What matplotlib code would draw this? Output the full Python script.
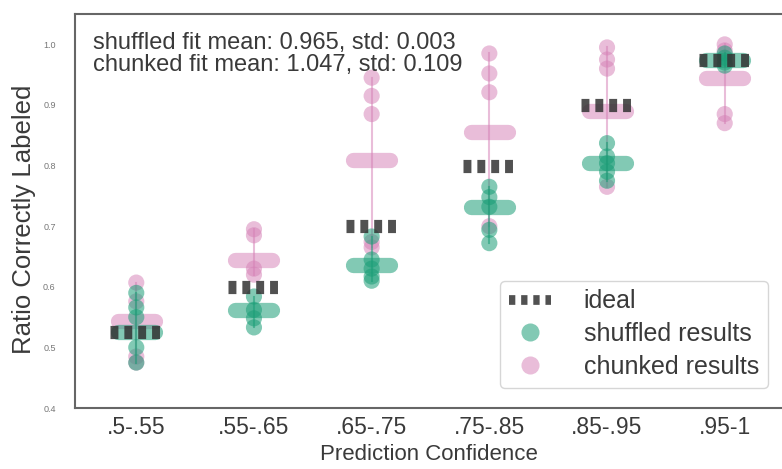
#!/usr/bin/env python3
"""Calibration of labelled ratios per confidence bin, shuffled vs chunked."""

import matplotlib

matplotlib.use("Agg")
import matplotlib.pyplot as plt
from matplotlib.lines import Line2D

categories = [".5-.55", ".55-.65", ".65-.75", ".75-.85", ".85-.95", ".95-1"]
ideal = [0.525, 0.6, 0.7, 0.8, 0.9, 0.975]

shuffled_mean = [0.525, 0.562, 0.636, 0.732, 0.804, 0.975]
chunked_mean = [0.543, 0.645, 0.81, 0.855, 0.89, 0.944]

shuffled_points = [
    [0.59, 0.566, 0.55, 0.50, 0.475],
    [0.584, 0.562, 0.548, 0.533],
    [0.683, 0.645, 0.63, 0.617, 0.61],
    [0.765, 0.748, 0.732, 0.694, 0.672],
    [0.837, 0.815, 0.804, 0.79, 0.775],
    [0.985, 0.978, 0.97, 0.965],
]
chunked_points = [
    [0.607, 0.576, 0.485, 0.475],
    [0.695, 0.685, 0.63, 0.62],
    [0.945, 0.915, 0.885, 0.674, 0.665],
    [0.985, 0.952, 0.921, 0.70],
    [0.995, 0.975, 0.96, 0.765],
    [1.0, 0.99, 0.885, 0.87],
]

fit_text = [
    "shuffled fit mean: 0.965, std: 0.003",
    "chunked fit mean: 1.047, std: 0.109",
]

GREEN = "#1b9e77"
PINK = "#d581b6"
IDEAL = "#333333"
TEXT = "#3a3a3a"

plt.rcParams["font.family"] = ["Liberation Sans", "DejaVu Sans"]

fig = plt.figure(figsize=(7.82, 4.69), dpi=100)
ax = fig.add_axes([0.096, 0.13, 0.906, 0.84])


def draw_series(points, means, color, alpha, zorder):
    for i, (vals, mean) in enumerate(zip(points, means)):
        ax.plot([i, i], [min(vals), max(vals)], color=color, alpha=alpha,
                lw=1.5, zorder=zorder)
        ax.plot([i - 0.157, i + 0.157], [mean, mean], color=color,
                alpha=alpha, lw=11, solid_capstyle="round", zorder=zorder)
        ax.scatter([i] * len(vals), vals, s=135, color=color, alpha=alpha,
                   edgecolors="none", zorder=zorder)


draw_series(chunked_points, chunked_mean, PINK, 0.52, 2)
draw_series(shuffled_points, shuffled_mean, GREEN, 0.55, 3)

for i, val in enumerate(ideal):
    ax.plot([i - 0.22, i + 0.22], [val, val], color=IDEAL, alpha=0.85,
            lw=9.5, dashes=(0.6, 0.45), solid_capstyle="butt",
            dash_capstyle="butt", zorder=4)

ax.set_xlim(-0.52, 5.5)
ax.set_ylim(0.4, 1.05)
ax.set_xticks(range(len(categories)))
ax.set_xticklabels(categories, fontsize=16.5, color=TEXT)
ax.set_yticks([0.4, 0.5, 0.6, 0.7, 0.8, 0.9, 1.0])
ax.set_yticklabels(["0.4", "0.5", "0.6", "0.7", "0.8", "0.9", "1.0"],
                   fontsize=6.5, color="#777777")
ax.tick_params(length=0)
ax.tick_params(axis="y", pad=14)
ax.tick_params(axis="x", pad=6)
ax.set_xlabel("Prediction Confidence", fontsize=16, color=TEXT, labelpad=3)
ax.set_ylabel("Ratio Correctly Labeled", fontsize=18.5, color=TEXT)
ax.yaxis.set_label_coords(-0.055, 0.48)
for side in ("left", "bottom", "top"):
    ax.spines[side].set_color("#666666")
    ax.spines[side].set_linewidth(1.5)
ax.spines["right"].set_visible(False)

ax.text(0.025, 0.955, "\n".join(fit_text), transform=ax.transAxes,
        fontsize=17, color=TEXT, va="top", ha="left", linespacing=1.0)

handles = [
    Line2D([], [], color=IDEAL, alpha=0.85, lw=7, dashes=(0.65, 0.6)),
    Line2D([], [], ls="none", marker="o", markersize=13, color=GREEN,
           alpha=0.55, markeredgewidth=0),
    Line2D([], [], ls="none", marker="o", markersize=13, color=PINK,
           alpha=0.52, markeredgewidth=0),
]
ax.legend(handles, ["ideal", "shuffled results", "chunked results"],
          loc="lower right", fontsize=18, frameon=True, handlelength=1.7,
          labelcolor=TEXT, borderpad=0.35, labelspacing=0.35,
          handletextpad=1.3, edgecolor="#cccccc",
          bbox_to_anchor=(0.995, 0.02))

fig.savefig("out.png", dpi=100)
